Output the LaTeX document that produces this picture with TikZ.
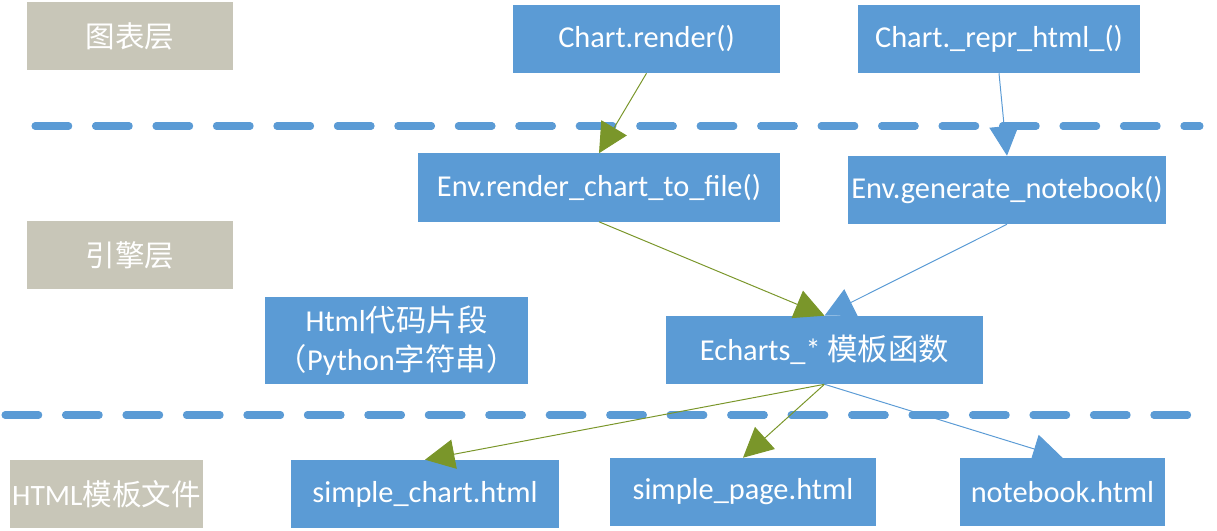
\documentclass[tikz,border=0pt]{standalone}
\usepackage{fontspec}
\setmainfont{Carlito}
\newfontfamily\cjk{Noto Sans CJK SC}
\usetikzlibrary{arrows.meta}
\definecolor{boxblue}{RGB}{91,155,213}
\definecolor{laygray}{RGB}{200,198,184}
\definecolor{arrgreen}{RGB}{122,150,42}
\tikzset{layer/.style={rectangle,fill=laygray,text=white,inner sep=0pt,minimum height=1.7cm,font=\fontsize{21}{24}\selectfont}}
\tikzset{func/.style={rectangle,fill=boxblue,text=white,inner sep=0pt,minimum height=1.7cm,align=center,font=\fontsize{21.6}{28}\selectfont}}
\tikzset{sep/.style={boxblue,line width=5pt,line cap=round,dash pattern=on 24pt off 19pt}}
\tikzset{garr/.style={arrgreen,line width=0.7pt,-{Triangle[length=21pt,width=21pt]}}}
\tikzset{barr/.style={boxblue,line width=0.7pt,-{Triangle[length=21pt,width=21pt]}}}

\begin{document}
\begin{tikzpicture}[x=0.025cm,y=-0.025cm]
\useasboundingbox (0,0) rectangle (1217,531);
% layer separators
\draw[sep] (35,126) -- (1200,126);
\draw[sep] (5,415) -- (1212,415);
% layers
\node (chartlay) at (130,36) [layer,minimum width=5.15cm] {\cjk 图表层};
\node (enginelay) at (130,255) [layer,minimum width=5.15cm] {\cjk 引擎层};
\node (tpllay) at (106.5,494) [layer,minimum width=4.83cm] {HTML{\cjk 模板文件}};
% chart layer
\node (render) at (646.5,39) [func,minimum width=6.68cm] {Chart.render()};
\node (repr) at (999,39) [func,minimum width=7.05cm] {Chart.\_repr\_html\_()};
% engine layer
\node (tofile) at (599,187.5) [func,minimum width=9.05cm] {Env.render\_chart\_to\_file()};
\node (notebook) at (1007,190) [func,minimum width=7.95cm] {Env.generate\_notebook()};
\node (snippet) at (396.5,340.5) [func,minimum width=6.58cm,minimum height=2.18cm] {Html{\cjk 代码片段}\\{\cjk （}Python{\cjk 字符串）}};
\node (echarts) at (824.5,350) [func,minimum width=7.93cm] {Echarts\_* {\cjk 模板函数}};
% template files
\node (schart) at (425,494) [func,minimum width=6.7cm] {simple\_chart.html};
\node (spage) at (743,492) [func,minimum width=6.65cm] {simple\_page.html};
\node (nbhtml) at (1062.5,492) [func,minimum width=5.13cm] {notebook.html};
% calls
\draw[garr] (render.south) -- (tofile.north);
\draw[barr] (repr.south) -- (notebook.north);
\draw[garr] (tofile.south) -- (echarts.north);
\draw[barr] (notebook.south) -- (echarts.north);
\draw[garr] (echarts.south) -- (schart.north);
\draw[garr] (echarts.south) -- (spage.north);
\draw[barr] (echarts.south) -- (nbhtml.north);
\end{tikzpicture}
\end{document}
